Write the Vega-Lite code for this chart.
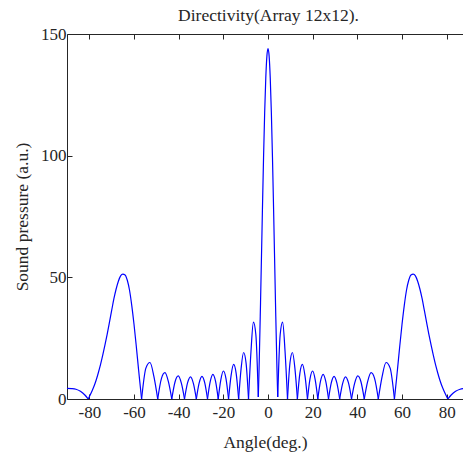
{
  "$schema": "https://vega.github.io/schema/vega-lite/v6.json",
  "width": 396,
  "height": 365,
  "autosize": {"type": "none"},
  "padding": {"left": 67, "top": 34, "right": 0, "bottom": 60},
  "background": "white",
  "config": {
    "view": {"stroke": null},
    "axis": {"labelFont": "Liberation Serif", "titleFont": "Liberation Serif", "labelFontSize": 17, "titleFontSize": 17.5, "titleFontWeight": "normal", "labelColor": "#262626", "titleColor": "#262626", "domainColor": "#262626", "tickColor": "#262626", "grid": false, "domainWidth": 1, "tickWidth": 1}
  },
  "data": {"values": [
    {"a": -4.35, "p": 0.8, "s": "m"}, {"a": -4, "p": 12.6, "s": "m"}, {"a": -3.35, "p": 39.6, "s": "m"}, {"a": -2.5, "p": 77.8, "s": "m"}, {"a": -2, "p": 99.2, "s": "m"}, {"a": -1.5, "p": 117.6, "s": "m"}, {"a": -1, "p": 131.9, "s": "m"}, {"a": -0.5, "p": 140.9, "s": "m"}, {"a": 0, "p": 144, "s": "m"}, {"a": 0.5, "p": 140.9, "s": "m"}, {"a": 1, "p": 131.9, "s": "m"}, {"a": 1.5, "p": 117.6, "s": "m"}, {"a": 2, "p": 99.2, "s": "m"}, {"a": 2.5, "p": 77.8, "s": "m"}, {"a": 3.35, "p": 39.6, "s": "m"}, {"a": 4, "p": 12.6, "s": "m"}, {"a": 4.35, "p": 0.8, "s": "m"},

    {"a": 4.35, "p": 0.8, "s": "r1"}, {"a": 5.44, "p": 26.4, "s": "r1"}, {"a": 6.54, "p": 31.6, "s": "r1"}, {"a": 7.63, "p": 19.5, "s": "r1"}, {"a": 8.73, "p": 0, "s": "r1"},
    {"a": 8.73, "p": 0, "s": "r2"}, {"a": 9.83, "p": 14.8, "s": "r2"}, {"a": 10.94, "p": 19.1, "s": "r2"}, {"a": 12.05, "p": 12.5, "s": "r2"}, {"a": 13.16, "p": 0, "s": "r2"},
    {"a": 13.16, "p": 0, "s": "r3"}, {"a": 14.28, "p": 10.6, "s": "r3"}, {"a": 15.41, "p": 14.2, "s": "r3"}, {"a": 16.54, "p": 9.6, "s": "r3"}, {"a": 17.67, "p": 0, "s": "r3"},
    {"a": 17.67, "p": 0, "s": "r4"}, {"a": 18.82, "p": 8.4, "s": "r4"}, {"a": 19.97, "p": 11.5, "s": "r4"}, {"a": 21.13, "p": 7.9, "s": "r4"}, {"a": 22.3, "p": 0, "s": "r4"},
    {"a": 22.3, "p": 0, "s": "r5"}, {"a": 23.48, "p": 7.2, "s": "r5"}, {"a": 24.68, "p": 10.1, "s": "r5"}, {"a": 25.88, "p": 7.1, "s": "r5"}, {"a": 27.09, "p": 0, "s": "r5"},
    {"a": 27.09, "p": 0, "s": "r6"}, {"a": 28.32, "p": 6.6, "s": "r6"}, {"a": 29.57, "p": 9.3, "s": "r6"}, {"a": 30.82, "p": 6.6, "s": "r6"}, {"a": 32.09, "p": 0, "s": "r6"},
    {"a": 32.09, "p": 0, "s": "r7"}, {"a": 33.39, "p": 6.3, "s": "r7"}, {"a": 34.7, "p": 9.1, "s": "r7"}, {"a": 36.03, "p": 6.6, "s": "r7"}, {"a": 37.39, "p": 0, "s": "r7"},
    {"a": 37.39, "p": 0, "s": "r8"}, {"a": 38.77, "p": 6.4, "s": "r8"}, {"a": 40.18, "p": 9.5, "s": "r8"}, {"a": 41.61, "p": 7.1, "s": "r8"}, {"a": 43.09, "p": 0, "s": "r8"},
    {"a": 43.09, "p": 0, "s": "r9"}, {"a": 44.6, "p": 7.1, "s": "r9"}, {"a": 46.14, "p": 10.8, "s": "r9"}, {"a": 47.73, "p": 8.4, "s": "r9"}, {"a": 49.38, "p": 0, "s": "r9"},
    {"a": 49.38, "p": 0, "s": "r10"}, {"a": 51.08, "p": 9.2, "s": "r10"}, {"a": 52.84, "p": 15.0, "s": "r10"}, {"a": 54.68, "p": 12.7, "s": "r10"}, {"a": 56.6, "p": 0, "s": "r10"},
    {"a": 56.6, "p": 0, "s": "rg"}, {"a": 57.5, "p": 7.9, "s": "rg"}, {"a": 58, "p": 12.5, "s": "rg"}, {"a": 59, "p": 21.9, "s": "rg"}, {"a": 60, "p": 30.7, "s": "rg"}, {"a": 61, "p": 38.4, "s": "rg"}, {"a": 62, "p": 44.7, "s": "rg"}, {"a": 63, "p": 48.8, "s": "rg"}, {"a": 64, "p": 51.0, "s": "rg"}, {"a": 65, "p": 51.3, "s": "rg"}, {"a": 66, "p": 50.6, "s": "rg"}, {"a": 67, "p": 48.4, "s": "rg"}, {"a": 68, "p": 45.2, "s": "rg"}, {"a": 69, "p": 41.2, "s": "rg"}, {"a": 70, "p": 36.4, "s": "rg"}, {"a": 71, "p": 31.5, "s": "rg"}, {"a": 72, "p": 26.7, "s": "rg"}, {"a": 73, "p": 22.2, "s": "rg"}, {"a": 74, "p": 18.0, "s": "rg"}, {"a": 75, "p": 14.1, "s": "rg"}, {"a": 76, "p": 10.7, "s": "rg"}, {"a": 77, "p": 7.6, "s": "rg"}, {"a": 78, "p": 5.0, "s": "rg"}, {"a": 79, "p": 2.9, "s": "rg"}, {"a": 80.5, "p": 0, "s": "rg"},
    {"a": 80.5, "p": 0, "s": "rt"}, {"a": 82, "p": 1.65, "s": "rt"}, {"a": 84, "p": 3.15, "s": "rt"}, {"a": 86, "p": 4.0, "s": "rt"}, {"a": 88, "p": 4.3, "s": "rt"}, {"a": 90, "p": 4.4, "s": "rt"},

    {"a": -4.35, "p": 0.8, "s": "l1"}, {"a": -5.44, "p": 26.4, "s": "l1"}, {"a": -6.54, "p": 31.6, "s": "l1"}, {"a": -7.63, "p": 19.5, "s": "l1"}, {"a": -8.73, "p": 0, "s": "l1"},
    {"a": -8.73, "p": 0, "s": "l2"}, {"a": -9.83, "p": 14.8, "s": "l2"}, {"a": -10.94, "p": 19.1, "s": "l2"}, {"a": -12.05, "p": 12.5, "s": "l2"}, {"a": -13.16, "p": 0, "s": "l2"},
    {"a": -13.16, "p": 0, "s": "l3"}, {"a": -14.28, "p": 10.6, "s": "l3"}, {"a": -15.41, "p": 14.2, "s": "l3"}, {"a": -16.54, "p": 9.6, "s": "l3"}, {"a": -17.67, "p": 0, "s": "l3"},
    {"a": -17.67, "p": 0, "s": "l4"}, {"a": -18.82, "p": 8.4, "s": "l4"}, {"a": -19.97, "p": 11.5, "s": "l4"}, {"a": -21.13, "p": 7.9, "s": "l4"}, {"a": -22.3, "p": 0, "s": "l4"},
    {"a": -22.3, "p": 0, "s": "l5"}, {"a": -23.48, "p": 7.2, "s": "l5"}, {"a": -24.68, "p": 10.1, "s": "l5"}, {"a": -25.88, "p": 7.1, "s": "l5"}, {"a": -27.09, "p": 0, "s": "l5"},
    {"a": -27.09, "p": 0, "s": "l6"}, {"a": -28.32, "p": 6.6, "s": "l6"}, {"a": -29.57, "p": 9.3, "s": "l6"}, {"a": -30.82, "p": 6.6, "s": "l6"}, {"a": -32.09, "p": 0, "s": "l6"},
    {"a": -32.09, "p": 0, "s": "l7"}, {"a": -33.39, "p": 6.3, "s": "l7"}, {"a": -34.7, "p": 9.1, "s": "l7"}, {"a": -36.03, "p": 6.6, "s": "l7"}, {"a": -37.39, "p": 0, "s": "l7"},
    {"a": -37.39, "p": 0, "s": "l8"}, {"a": -38.77, "p": 6.4, "s": "l8"}, {"a": -40.18, "p": 9.5, "s": "l8"}, {"a": -41.61, "p": 7.1, "s": "l8"}, {"a": -43.09, "p": 0, "s": "l8"},
    {"a": -43.09, "p": 0, "s": "l9"}, {"a": -44.6, "p": 7.1, "s": "l9"}, {"a": -46.14, "p": 10.8, "s": "l9"}, {"a": -47.73, "p": 8.4, "s": "l9"}, {"a": -49.38, "p": 0, "s": "l9"},
    {"a": -49.38, "p": 0, "s": "l10"}, {"a": -51.08, "p": 9.2, "s": "l10"}, {"a": -52.84, "p": 15.0, "s": "l10"}, {"a": -54.68, "p": 12.7, "s": "l10"}, {"a": -56.6, "p": 0, "s": "l10"},
    {"a": -56.6, "p": 0, "s": "lg"}, {"a": -57.5, "p": 7.9, "s": "lg"}, {"a": -58, "p": 12.5, "s": "lg"}, {"a": -59, "p": 21.9, "s": "lg"}, {"a": -60, "p": 30.7, "s": "lg"}, {"a": -61, "p": 38.4, "s": "lg"}, {"a": -62, "p": 44.7, "s": "lg"}, {"a": -63, "p": 48.8, "s": "lg"}, {"a": -64, "p": 51.0, "s": "lg"}, {"a": -65, "p": 51.3, "s": "lg"}, {"a": -66, "p": 50.6, "s": "lg"}, {"a": -67, "p": 48.4, "s": "lg"}, {"a": -68, "p": 45.2, "s": "lg"}, {"a": -69, "p": 41.2, "s": "lg"}, {"a": -70, "p": 36.4, "s": "lg"}, {"a": -71, "p": 31.5, "s": "lg"}, {"a": -72, "p": 26.7, "s": "lg"}, {"a": -73, "p": 22.2, "s": "lg"}, {"a": -74, "p": 18.0, "s": "lg"}, {"a": -75, "p": 14.1, "s": "lg"}, {"a": -76, "p": 10.7, "s": "lg"}, {"a": -77, "p": 7.6, "s": "lg"}, {"a": -78, "p": 5.0, "s": "lg"}, {"a": -79, "p": 2.9, "s": "lg"}, {"a": -80.5, "p": 0, "s": "lg"},
    {"a": -80.5, "p": 0, "s": "lt"}, {"a": -82, "p": 1.65, "s": "lt"}, {"a": -84, "p": 3.15, "s": "lt"}, {"a": -86, "p": 4.0, "s": "lt"}, {"a": -88, "p": 4.3, "s": "lt"}, {"a": -90, "p": 4.4, "s": "lt"}
  ]},
  "resolve": {"axis": {"x": "independent"}},
  "layer": [
    {
      "mark": {"type": "line", "color": "#0000ff", "strokeWidth": 1.2, "interpolate": "monotone", "clip": true},
      "encoding": {
        "x": {"field": "a", "type": "quantitative", "scale": {"domain": [-90, 87.3], "nice": false, "zero": false},
              "axis": {"orient": "bottom", "values": [-80, -60, -40, -20, 0, 20, 40, 60, 80], "labelExpr": "datum.value + ''", "tickSize": -5, "labelPadding": 10, "labelFlush": false, "title": "Angle(deg.)", "titlePadding": 13}},
        "y": {"field": "p", "type": "quantitative", "scale": {"domain": [0, 150], "nice": false},
              "axis": {"orient": "left", "values": [0, 50, 100, 150], "tickSize": -5, "labelPadding": 6, "labelFlush": false, "title": "Sound pressure (a.u.)", "titlePadding": 9}},
        "detail": {"field": "s"}
      }
    },
    {
      "mark": {"type": "point", "opacity": 0},
      "encoding": {
        "x": {"field": "a", "type": "quantitative",
              "axis": {"orient": "top", "values": [-80, -60, -40, -20, 0, 20, 40, 60, 80], "labels": false, "tickSize": -5, "title": "Directivity(Array 12x12).", "titleFontSize": 17.5, "titlePadding": 9, "titleX": 201}},
        "y": {"field": "p", "type": "quantitative"}
      }
    }
  ]
}
